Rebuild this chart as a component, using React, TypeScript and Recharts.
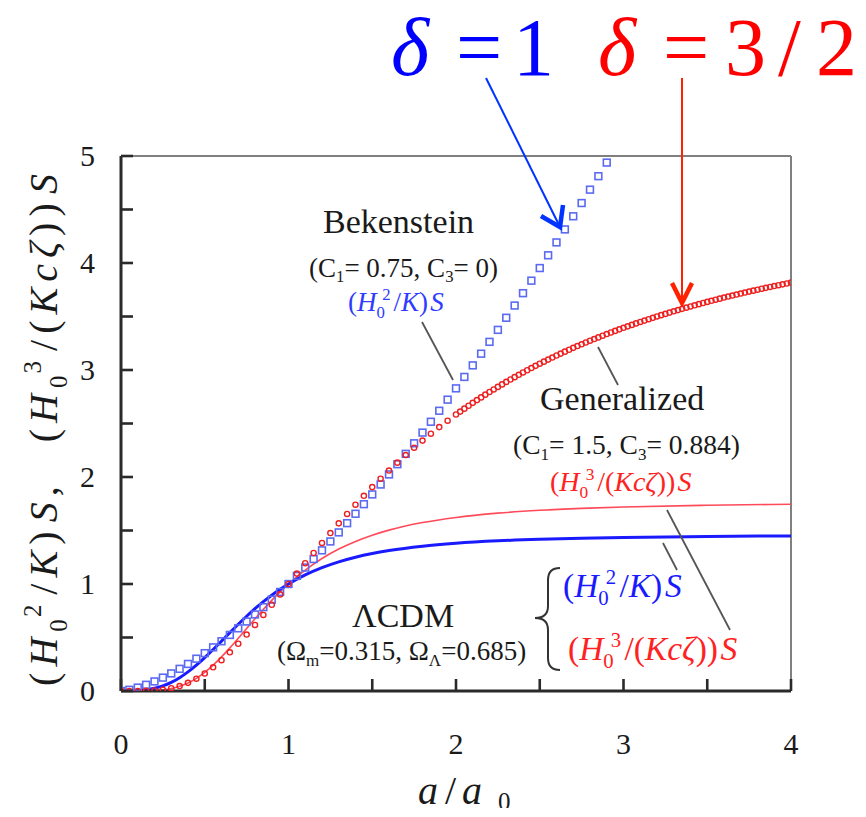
import { ComposedChart, Line, Scatter, XAxis, YAxis, ReferenceLine } from 'recharts';

const SERIF = '"Liberation Serif", "Times New Roman", serif';

const xTicks = [0, 0.5, 1, 1.5, 2, 2.5, 3, 3.5, 4];
const yTicks = [0, 0.5, 1, 1.5, 2, 2.5, 3, 3.5, 4, 4.5, 5];

// [a/a0, value]
// Bekenstein, delta = 1 (blue squares)
const bekenstein: [number, number][] = [
  [0, 0], [0.05, 0.0112], [0.1, 0.0316], [0.15, 0.0581], [0.2, 0.0894], [0.25, 0.125],
  [0.3, 0.1643], [0.35, 0.2071], [0.4, 0.253], [0.45, 0.3019], [0.5, 0.3536], [0.55, 0.4079],
  [0.6, 0.4648], [0.65, 0.524], [0.7, 0.5857], [0.75, 0.6495], [0.8, 0.7155], [0.85, 0.7837],
  [0.9, 0.8538], [0.95, 0.9259], [1, 1], [1.05, 1.0759], [1.1, 1.1537], [1.15, 1.2332],
  [1.2, 1.3145], [1.25, 1.3975], [1.3, 1.4822], [1.35, 1.5686], [1.4, 1.6565], [1.45, 1.746],
  [1.5, 1.8371], [1.55, 1.9297], [1.6, 2.0239], [1.65, 2.1195], [1.7, 2.2165], [1.75, 2.315],
  [1.8, 2.415], [1.85, 2.5163], [1.9, 2.619], [1.95, 2.723], [2, 2.8284], [2.05, 2.9352],
  [2.1, 3.0432], [2.15, 3.1525], [2.2, 3.2631], [2.25, 3.375], [2.3, 3.4881], [2.35, 3.6025],
  [2.4, 3.7181], [2.45, 3.8349], [2.5, 3.9528], [2.55, 4.0721], [2.6, 4.1924], [2.65, 4.3139],
  [2.7, 4.4366], [2.75, 4.5604], [2.8, 4.6853], [2.85, 4.8113], [2.9, 4.9385],
];

// Generalized, delta = 3/2 (red circles)
const generalized: [number, number][] = [
  [0, 0], [0.05, 0], [0.1, 0.0002], [0.15, 0.0013], [0.2, 0.0047], [0.25, 0.0121],
  [0.3, 0.0255], [0.35, 0.0464], [0.4, 0.076], [0.45, 0.1151], [0.5, 0.1637], [0.55, 0.2215],
  [0.6, 0.2877], [0.65, 0.3615], [0.7, 0.4418], [0.75, 0.5275], [0.8, 0.6175], [0.85, 0.7106],
  [0.9, 0.8059], [0.95, 0.9027], [1, 1], [1.05, 1.0973], [1.1, 1.194], [1.15, 1.2897],
  [1.2, 1.3838], [1.25, 1.4762], [1.3, 1.5666], [1.35, 1.6548], [1.4, 1.7409], [1.45, 1.8244],
  [1.5, 1.9056], [1.55, 1.9842], [1.6, 2.0603], [1.65, 2.1339], [1.7, 2.2052], [1.75, 2.274],
  [1.8, 2.3404], [1.85, 2.4045], [1.9, 2.4665], [1.95, 2.5262], [2, 2.5839],
  [2.025, 2.6113], [2.05, 2.6388], [2.075, 2.666], [2.1, 2.693], [2.125, 2.7186], [2.15, 2.744],
  [2.175, 2.7694], [2.2, 2.7945], [2.225, 2.8182], [2.25, 2.8419], [2.275, 2.8655], [2.3, 2.889],
  [2.325, 2.9111], [2.35, 2.9331], [2.375, 2.9551], [2.4, 2.977], [2.425, 2.9976], [2.45, 3.0181],
  [2.475, 3.0386], [2.5, 3.059], [2.525, 3.0782], [2.55, 3.0974], [2.575, 3.1165], [2.6, 3.1356],
  [2.625, 3.1535], [2.65, 3.1714], [2.675, 3.1892], [2.7, 3.207], [2.725, 3.2237], [2.75, 3.2404],
  [2.775, 3.257], [2.8, 3.2736], [2.825, 3.2892], [2.85, 3.3048], [2.875, 3.3204], [2.9, 3.336],
  [2.925, 3.3506], [2.95, 3.3652], [2.975, 3.3798], [3, 3.3943], [3.025, 3.408], [3.05, 3.4217],
  [3.075, 3.4354], [3.1, 3.449], [3.125, 3.4618], [3.15, 3.4747], [3.175, 3.4875], [3.2, 3.5003],
  [3.225, 3.5124], [3.25, 3.5245], [3.275, 3.5366], [3.3, 3.5486], [3.325, 3.5599], [3.35, 3.5713],
  [3.375, 3.5826], [3.4, 3.5939], [3.425, 3.6046], [3.45, 3.6153], [3.475, 3.626], [3.5, 3.6366],
  [3.525, 3.6467], [3.55, 3.6568], [3.575, 3.6669], [3.6, 3.6769], [3.625, 3.6864], [3.65, 3.6958],
  [3.675, 3.7053], [3.7, 3.7147], [3.725, 3.7237], [3.75, 3.7327], [3.775, 3.7417], [3.8, 3.7507],
  [3.825, 3.7592], [3.85, 3.7676], [3.875, 3.7761], [3.9, 3.7845], [3.925, 3.7925], [3.95, 3.8005],
  [3.975, 3.8086], [4, 3.8166],
];

// LCDM, (H0^2/K)S (blue line)
const lcdmBlue: [number, number][] = [
  [0, 0], [0.05, 0.0004], [0.1, 0.0032], [0.15, 0.0106], [0.2, 0.025], [0.25, 0.048],
  [0.3, 0.081], [0.35, 0.1245], [0.4, 0.1784], [0.45, 0.2414], [0.5, 0.312], [0.55, 0.3879],
  [0.6, 0.4666], [0.65, 0.5459], [0.7, 0.6237], [0.75, 0.6985], [0.8, 0.7691], [0.85, 0.8348],
  [0.9, 0.8952], [0.95, 0.9502], [1, 1], [1.1, 1.085], [1.2, 1.153], [1.3, 1.2072],
  [1.4, 1.2503], [1.5, 1.2848], [1.6, 1.3125], [1.8, 1.3532], [2, 1.3805], [2.25, 1.4032],
  [2.5, 1.4181], [2.75, 1.4283], [3, 1.4354], [3.5, 1.4444], [4, 1.4494],
];

// LCDM, (H0^3/(Kc zeta))S (red line)
const lcdmRed: [number, number][] = [
  [0, 0], [0.05, 0], [0.1, 0.0002], [0.15, 0.0011], [0.2, 0.0039], [0.25, 0.0105],
  [0.3, 0.023], [0.35, 0.0439], [0.4, 0.0754], [0.45, 0.1186], [0.5, 0.1743], [0.55, 0.2416],
  [0.6, 0.3187], [0.65, 0.4033], [0.7, 0.4925], [0.75, 0.5838], [0.8, 0.6745], [0.85, 0.7627],
  [0.9, 0.847], [0.95, 0.9263], [1, 1], [1.1, 1.1302], [1.2, 1.2381], [1.3, 1.3264],
  [1.4, 1.3981], [1.5, 1.4563], [1.6, 1.5036], [1.8, 1.5742], [2, 1.6221], [2.25, 1.6622],
  [2.5, 1.6887], [2.75, 1.707], [3, 1.7198], [3.5, 1.7359], [4, 1.7449],
];

const pts = (rows: [number, number][]) => rows.map(([a, y]) => ({ a, y }));

const BLUE = '#1a1aff';
const RED = '#ff2222';
const INK = '#1a1a1a';
const LEADER = '#555';
const AXIS = '#2a2a2a';
const FRAME = '#808080';

// plot box inside the 850x800 chart
const W = 850;
const H = 800;
const M = { top: 148, right: 67, bottom: 77, left: 63 };
const X_AXIS_H = 40;
const Y_AXIS_W = 50;
const PLOT = {
  left: M.left + Y_AXIS_W,
  right: W - M.right,
  top: M.top,
  bottom: H - M.bottom - X_AXIS_H,
};
const X_MAX = 4;
const Y_MAX = 5;
const TICK_LEN = 12;

function XLabel({ x, y, payload }: any) {
  const v = payload.value;
  if (!Number.isInteger(v)) return <g />;
  return (
    <text x={x} y={y + 21} textAnchor="middle" fontSize={30} fill={INK} fontFamily={SERIF}>{v}</text>
  );
}

function YLabel({ x, y, payload }: any) {
  const v = payload.value;
  if (!Number.isInteger(v)) return <g />;
  return (
    <text x={x} y={y + 10} textAnchor="end" fontSize={30} fill={INK} fontFamily={SERIF}>{v}</text>
  );
}

const Square = (p: any) => (
  <rect x={p.cx - 3.4} y={p.cy - 3.4} width={6.8} height={6.8} fill="none" stroke="#5a6af2" strokeWidth={1.6} />
);
const Ring = (p: any) => (
  <circle cx={p.cx} cy={p.cy} r={2.6} fill="none" stroke="#ee1f1f" strokeWidth={1.4} />
);

// (H_0^p / K) S  or  (H_0^p / (K c zeta)) S
function HRatio({ fs, p, den }: { fs: number; p: string; den: 'K' | 'Kcz' }) {
  const s = fs * 0.62;
  return (
    <>
      <tspan>(</tspan>
      <tspan fontStyle="italic">H</tspan>
      <tspan fontSize={s} dy={fs * 0.25}>0</tspan>
      <tspan fontSize={s} dx={-s * 0.15} dy={-fs * 0.64}>{p}</tspan>
      <tspan dx={fs * 0.1} dy={fs * 0.39}>/</tspan>
      {den === 'K' ? (
        <>
          <tspan fontStyle="italic">K</tspan>
          <tspan>)</tspan>
        </>
      ) : (
        <>
          <tspan>(</tspan>
          <tspan fontStyle="italic">Kcζ</tspan>
          <tspan>))</tspan>
        </>
      )}
      <tspan dx={fs * 0.08} fontStyle="italic">S</tspan>
    </>
  );
}

function Params({ fs, c1, c3 }: { fs: number; c1: string; c3: string }) {
  const s = fs * 0.62;
  const d = fs * 0.2;
  return (
    <>
      <tspan>(C</tspan>
      <tspan fontSize={s} dy={d}>1</tspan>
      <tspan dy={-d}>{`= ${c1}, C`}</tspan>
      <tspan fontSize={s} dy={d}>3</tspan>
      <tspan dy={-d}>{`= ${c3})`}</tspan>
    </>
  );
}

// inward tick marks along the bottom and left axes
function Ticks() {
  const sx = (v: number) => PLOT.left + (v / X_MAX) * (PLOT.right - PLOT.left);
  const sy = (v: number) => PLOT.bottom - (v / Y_MAX) * (PLOT.bottom - PLOT.top);
  return (
    <g>
      {xTicks.map((v) => (
        <line key={`xt-${v}`} x1={sx(v)} x2={sx(v)} y1={PLOT.bottom} y2={PLOT.bottom - TICK_LEN} stroke={AXIS} strokeWidth={2.6} />
      ))}
      {yTicks.map((v) => (
        <line key={`yt-${v}`} x1={PLOT.left} x2={PLOT.left + TICK_LEN} y1={sy(v)} y2={sy(v)} stroke={AXIS} strokeWidth={2.6} />
      ))}
    </g>
  );
}

function Annotations() {
  return (
    <svg
      width={W}
      height={808}
      style={{ position: 'absolute', left: 0, top: 0, pointerEvents: 'none', overflow: 'visible' }}
      fontFamily={SERIF}
    >
      <Ticks />

      {/* delta labels */}
      <text y={67} fontSize={82} fill="#0000ff">
        <tspan x={383} fontStyle="italic">δ</tspan>
        <tspan x={448}>=</tspan>
        <tspan x={505}>1</tspan>
      </text>
      <text y={67} fontSize={82} fill="#ff0000">
        <tspan x={590} fontStyle="italic">δ</tspan>
        <tspan x={655}>=</tspan>
        <tspan x={717}>3</tspan>
        <tspan x={770}>/</tspan>
        <tspan x={808}>2</tspan>
      </text>

      {/* arrows */}
      <line x1={478} y1={70} x2={552} y2={219} stroke="#0033ff" strokeWidth={2} />
      <polyline points="533,208 552,219 555,197" fill="none" stroke="#0033ff" strokeWidth={4.5} />
      <line x1={674} y1={70} x2={674} y2={294} stroke="#ff2200" strokeWidth={2} />
      <polyline points="664,275 674,295 684,275" fill="none" stroke="#ff2200" strokeWidth={4.5} />

      {/* Bekenstein */}
      <text x={315} y={225} fontSize={34} fill={INK}>Bekenstein</text>
      <text x={301} y={269} fontSize={27} fill={INK}>
        <Params fs={27} c1="0.75" c3="0" />
      </text>
      <text x={340} y={303} fontSize={27} fill="#2f3cff">
        <HRatio fs={27} p="2" den="K" />
      </text>
      <line x1={414} y1={314} x2={445} y2={372} stroke={LEADER} strokeWidth={1.8} />

      {/* Generalized */}
      <text x={532} y={402} fontSize={34} fill={INK}>Generalized</text>
      <text x={505} y={446} fontSize={27.5} fill={INK}>
        <Params fs={27.5} c1="1.5" c3="0.884" />
      </text>
      <text x={542} y={483} fontSize={28} fill={RED}>
        <HRatio fs={28} p="3" den="Kcz" />
      </text>
      <line x1={590} y1={339} x2={610} y2={377} stroke={LEADER} strokeWidth={1.8} />

      {/* LCDM */}
      <text x={344} y={619} fontSize={34} fill={INK}>ΛCDM</text>
      <text x={269} y={652} fontSize={27} fill={INK}>
        <tspan>(Ω</tspan>
        <tspan fontSize={17} dy={6}>m</tspan>
        <tspan dy={-6}>=0.315, Ω</tspan>
        <tspan fontSize={17} dy={6}>Λ</tspan>
        <tspan dy={-6}>=0.685)</tspan>
      </text>
      <path
        d="M 552 560 Q 540 560 540 572 L 540 598 Q 540 610 527 610 Q 540 610 540 622 L 540 650 Q 540 662 552 662"
        fill="none"
        stroke="#333"
        strokeWidth={2}
      />
      <text x={555} y={589} fontSize={33.5} fill={BLUE}>
        <HRatio fs={33.5} p="2" den="K" />
      </text>
      <text x={560} y={652} fontSize={33.5} fill={RED}>
        <HRatio fs={33.5} p="3" den="Kcz" />
      </text>
      <line x1={655} y1={535} x2={669} y2={562} stroke={LEADER} strokeWidth={1.8} />
      <line x1={659} y1={502} x2={722} y2={622} stroke={LEADER} strokeWidth={1.8} />

      {/* axis titles */}
      <text y={796} fontSize={40} fill={INK}>
        <tspan x={410} fontStyle="italic">a</tspan>
        <tspan x={437}>/</tspan>
        <tspan x={454} fontStyle="italic">a</tspan>
        <tspan x={490} fontSize={25} dy={6}>0</tspan>
      </text>
      <text
        transform="translate(49 419) rotate(-90)"
        textAnchor="middle"
        fontSize={40}
        letterSpacing={6}
        fill={INK}
      >
        <HRatio fs={40} p="2" den="K" />
        <tspan>,</tspan>
        <tspan dx={22}>{' '}</tspan>
        <HRatio fs={40} p="3" den="Kcz" />
      </text>
    </svg>
  );
}

export default function App() {
  return (
    <div style={{ position: 'relative', width: W, height: H, fontFamily: SERIF, background: '#fff' }}>
      <ComposedChart width={W} height={H} margin={M}>
        <XAxis
          type="number"
          dataKey="a"
          domain={[0, X_MAX]}
          ticks={xTicks}
          interval={0}
          allowDataOverflow
          height={X_AXIS_H}
          tickSize={0}
          tickMargin={42}
          axisLine={{ stroke: AXIS, strokeWidth: 3 }}
          tickLine={false}
          tick={<XLabel />}
        />
        <YAxis
          type="number"
          dataKey="y"
          domain={[0, Y_MAX]}
          ticks={yTicks}
          interval={0}
          allowDataOverflow
          width={Y_AXIS_W}
          tickSize={0}
          tickMargin={26}
          axisLine={{ stroke: AXIS, strokeWidth: 3 }}
          tickLine={false}
          tick={<YLabel />}
        />
        {/* frame: top and right edges */}
        <ReferenceLine y={Y_MAX} stroke={FRAME} strokeWidth={2} ifOverflow="visible" />
        <ReferenceLine x={X_MAX} stroke={FRAME} strokeWidth={2} ifOverflow="visible" />
        <Line data={pts(lcdmRed)} dataKey="y" type="monotone" stroke="#ff4a5a" strokeWidth={1.6} dot={false} activeDot={false} isAnimationActive={false} />
        <Line data={pts(lcdmBlue)} dataKey="y" type="monotone" stroke={BLUE} strokeWidth={3} dot={false} activeDot={false} isAnimationActive={false} />
        <Scatter data={pts(bekenstein)} dataKey="y" shape={Square} isAnimationActive={false} />
        <Scatter data={pts(generalized)} dataKey="y" shape={Ring} isAnimationActive={false} />
      </ComposedChart>
      <Annotations />
    </div>
  );
}
